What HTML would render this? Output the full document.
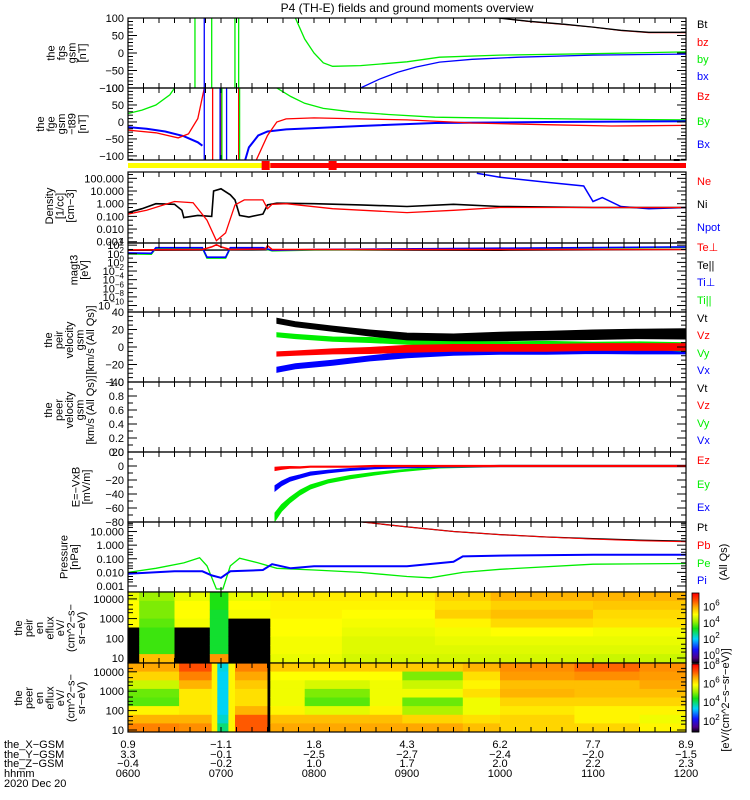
<!DOCTYPE html>
<html><head><meta charset="utf-8">
<style>
html,body{margin:0;padding:0;background:#fff;}
svg{display:block;font-family:"Liberation Sans",sans-serif;}
text{font-size:11px;}
</style></head>
<body>
<svg id="chart" width="750" height="800" viewBox="0 0 750 800" xmlns="http://www.w3.org/2000/svg">
<rect width="750" height="800" fill="#fff"/>
<text x="407" y="12" text-anchor="middle" style="font-size:12px">P4 (TH-E) fields and ground moments overview</text>
<g id="g"></g>
</svg>
<script>
// ---------- DATA ----------
const btT=[9.98,10.3,10.7,11.0,11.3,11.6,12];
const btV=[100,91,82,74,65,59,59];
const bzT=[9.98,10.3,10.7,11.0,11.3,11.6,12];
const bzV=[101,90,81,74,64,58,58];
const byT=[7.8,7.9,8.0,8.1,8.2,8.5,9.0,9.35,10,11,12];
const byV=[100,40,0,-28,-38,-36,-25,-12,-6,-2,3];
const bxT=[8.5,8.7,8.9,9.1,9.35,9.7,10.2,11,12];
const bxV=[-100,-75,-55,-40,-26,-18,-12,-6,-3];
const bySpikes=[6.72,6.9,7.15,7.19];
const bxSpikes=[6.82];
const fBzT=[6.0,6.3,6.54,6.65,6.75,6.82,6.83,7.38,7.5,7.6,7.7,8.0,9.0,9.7,10.5,11.2,12];
const fBzV=[-24,-32,-47,-35,10,100,null,-112,-40,0,9,12,6,-3,-8,-12,-10];
const fByT=[6.0,6.15,6.3,6.45,6.5,6.51,7.6,7.75,7.9,8.1,8.4,8.8,9.3,10,11,12];
const fByV=[25,35,50,80,100,null,100,75,55,40,30,22,14,11,8,6];
const fBxT=[6.0,6.2,6.4,6.6,6.75,6.8,6.81,7.26,7.3,7.4,7.5,7.7,8.0,8.5,9.3,10.5,12];
const fBxV=[-15,-20,-28,-42,-60,-70,null,-112,-75,-40,-28,-22,-18,-12,-3,0,2];
const fBzSpikes=[6.91,7.0,7.19];
const fBySpikes=[7.01,7.2];
const fBxSpikes=[6.82,6.99,7.06];
const niT=[6,6.15,6.3,6.5,6.58,6.6,6.75,6.9,6.92,7.0,7.1,7.15,7.2,7.3,7.45,7.5,7.6,8,8.5,9,9.5,10,11,12];
const niV=[0.2,0.4,1.0,0.9,0.3,0.08,0.12,0.1,10,15,5,2,0.12,0.09,0.15,0.8,1.1,1.0,0.8,0.6,0.9,0.6,0.5,0.5];
const neT=[6,6.2,6.5,6.7,6.85,6.95,7.05,7.15,7.25,7.45,7.5,7.55,7.7,8.2,9,9.5,10,11,12];
const neV=[0.15,0.3,1.5,1.2,0.05,0.0012,0.005,0.8,2,2,0.4,0.9,1,0.4,0.2,0.3,0.5,0.5,0.5];
const npT=[9.75,10,10.5,10.9,11.0,11.1,11.3,11.6,12];
const npV=[250,120,50,25,1.5,3,0.6,0.4,0.5];
const tePerpT=[6,6.8,6.9,6.95,7.0,7.1,7.48,7.5,7.55,12];
const tePerpL=[2.9,3.0,3.6,4.1,3.6,3.0,3.1,3.9,3.0,3.0];
const teParT=[6,7.5,8,10,12];
const teParL=[2.8,2.9,2.9,2.8,3.0];
const tiPerpT=[6,6.25,6.3,6.8,6.85,7.05,7.1,7.45,7.55,8,10,12];
const tiPerpL=[2.2,2.1,3.4,3.4,1.2,1.2,3.4,3.4,2.8,3.0,3.3,3.6];
const tiParL=[2.0,1.9,3.3,3.3,1.0,1.0,3.3,3.3,2.7,2.9,3.2,3.5];
const velT=[7.6,7.8,8.2,8.6,9.0,9.5,10,10.5,11,11.5,12];
const vtV=[30,26,21,16,12,11,12,13,14,15,15];
const vtA=[3,3,3,3.5,4,4,5,5,5.5,5.5,6];
const vyV=[14,12,9,8,6,4,3,3,2,2,0];
const vyA=[2.5,2.5,2.5,3,3,3,3,3.5,3.5,4,5];
const vzV=[-8,-7,-5,-4,-2,-1,-1,-1,0,0,0];
const vzA=[2.5,2.5,3,3.5,4,4,4,4,4,4,4];
const vxV=[-26,-22,-18,-13,-9,-6,-5,-5,-4,-4,-4];
const vxA=[3,3,3,3,3.5,3.5,3.5,3.5,3.5,4,4];
const eT=[7.58,7.65,7.74,7.85,7.96,8.15,8.39,8.65,8.92,9.35,10,11,12];
const eyV=[-73,-60,-49,-38,-30,-22,-16,-11,-7,-2,0,0,0];
const eyA=[6,5,4,3.5,3,2.5,2.5,2,1.5,1,1,1,1];
const exV=[-32,-25,-19,-15,-11,-8,-5,-3,-2,-1,0,0,0];
const exA=[4,3.5,3,2.5,2.5,2,1.5,1,1,1,1,1,1];
const ezV=[-4,-3,-2,-2,-1,-1,-1,0,0,0,0,0,0];
const ezA=[2.5,2,1.5,1.2,1,1,1,1,1,1,1,1,1];
const ptT=[8.52,9,9.5,10,10.5,11,11.5,12];
const ptV=[50,22,10,6,4,3,2.3,2.0];
const pbV=[50,22,10,6,4,2.8,2.1,1.8];
const peT=[6,6.3,6.6,6.77,6.85,6.95,7.02,7.1,7.2,7.4,7.6,8,8.5,9.0,9.25,9.6,10,11,12];
const peV=[0.01,0.02,0.05,0.12,0.03,0.0006,0.0006,0.03,0.11,0.05,0.02,0.015,0.01,0.005,0.004,0.01,0.017,0.04,0.045];
const piT=[6,6.5,6.8,6.9,7.0,7.1,7.45,7.55,7.75,8,8.5,9,9.5,9.6,10,11,12];
const piV=[0.008,0.012,0.012,0.006,0.004,0.012,0.015,0.04,0.02,0.028,0.028,0.028,0.06,0.15,0.17,0.2,0.2];
const iSegT=[6.0,6.12,6.5,6.88,7.08,7.53,8.3,9.3,9.9,11.0];
const iSegV=[
 [4.9,5.1,5.1,5.1,null,null,null,null],
 [4.2,4.0,4.0,3.8,3.6,3.6,3.6,5.8],
 [4.9,5.1,5.1,5.0,null,null,null,null],
 [3.4,3.4,3.2,3.2,3.2,3.2,3.2,6.2],
 [4.9,5.1,5.0,null,null,null,null,null],
 [5.3,5.2,5.2,5.1,5.1,5.0,5.0,4.9],
 [5.3,5.2,5.1,5.0,4.9,4.8,4.8,4.7],
 [5.6,5.4,5.6,5.2,5.0,4.9,4.8,4.7],
 [5.9,5.6,5.8,5.5,5.1,4.9,4.8,4.7],
 [5.9,5.7,5.5,5.4,5.0,4.9,4.8,4.6]];
const eSegT=[6.0,6.55,6.9,6.96,7.08,7.15,7.5,7.53,7.9,8.6,8.95,9.6,10.0,10.8,11.5];
const eSegV=[
 [6.7,6.3,5.5,4.9,4.8,6.0,6.6,7.0],
 [7.4,7.0,6.6,6.1,6.1,6.1,6.6,6.9],
 [6.0,6.0,6.0,6.0,6.0,6.0,6.0,6.0],
 [3.5,3.4,3.4,3.4,3.4,3.4,3.6,4.0],
 [6.0,6.0,6.0,6.0,6.0,6.0,6.0,6.0],
 [7.0,6.7,6.4,6.2,6.2,6.6,7.3,7.3],
 [null,null,null,null,null,null,null,null],
 [6.4,5.9,5.8,5.8,5.8,6.0,6.5,6.7],
 [6.4,5.9,5.6,5.0,4.8,5.7,6.5,6.7],
 [6.4,5.9,5.8,5.8,5.8,6.0,6.5,6.7],
 [6.4,5.0,5.5,5.8,4.9,5.3,6.3,6.7],
 [6.6,6.2,6.0,6.2,5.8,5.8,6.2,6.5],
 [6.9,6.8,6.5,6.6,6.3,6.1,6.3,6.3],
 [7.2,6.9,6.5,6.5,6.3,6.0,6.0,6.3],
 [6.9,6.8,6.7,6.5,6.3,6.0,5.8,6.0]];
const hhmm=["0600","0700","0800","0900","1000","1100","1200"];
const xGsm=["0.9","\u22121.1","1.8","4.3","6.2","7.7","8.9"];
const yGsm=["3.3","\u22120.1","\u22122.5","\u22122.7","\u22122.4","\u22122.0","\u22121.5"];
const zGsm=["\u22120.4","\u22120.2","1.0","1.7","2.0","2.2","2.3"];

// ---------- DRAWING ----------
const NS="http://www.w3.org/2000/svg";
const G=document.getElementById('g');
const X0=128,X1=686;
function tx(t){return X0+(t-6)/6*(X1-X0);}
function mk(tag,attrs,parent){const e=document.createElementNS(NS,tag);for(const k in attrs)e.setAttribute(k,attrs[k]);(parent||G).appendChild(e);return e;}
function lin(y0,y1,mn,mx){return v=>y1-(v-mn)/(mx-mn)*(y1-y0);}
function lg(y0,y1,mn,mx){return v=>y1-(Math.log10(v)-mn)/(mx-mn)*(y1-y0);}
let clipN=0;
function clip(y0,y1){const id='c'+(clipN++);const cp=mk('clipPath',{id:id});mk('rect',{x:X0,y:y0,width:X1-X0,height:y1-y0},cp);return 'url(#'+id+')';}
function pathD(ts,vs,yf){let d='',pen=false;for(let i=0;i<ts.length;i++){if(vs[i]==null){pen=false;continue;}d+=(pen?'L':'M')+tx(ts[i]).toFixed(1)+','+yf(vs[i]).toFixed(1);pen=true;}return d;}
function line(name,ts,vs,yf,col,cl,w){const p=mk('path',{d:pathD(ts,vs,yf),fill:'none',stroke:col,'stroke-width':w||1.3,'clip-path':cl});

return p;}
function band(name,ts,vs,as,yf,col,cl){let d='';for(let i=0;i<ts.length;i++)d+=(i?'L':'M')+tx(ts[i]).toFixed(1)+','+yf(vs[i]+as[i]).toFixed(1);for(let i=ts.length-1;i>=0;i--)d+='L'+tx(ts[i]).toFixed(1)+','+yf(vs[i]-as[i]).toFixed(1);d+='Z';
const p=mk('path',{d:d,fill:col,stroke:col,'stroke-width':0.8,'clip-path':cl});

}
function spikes(name,ts,y0,y1,col,cl){ts.forEach(t=>{const l=mk('line',{x1:tx(t),x2:tx(t),y1:y0,y2:y1,stroke:col,'stroke-width':1.3,'clip-path':cl});

});}
function frame(name,y0,y1){const r=mk('rect',{x:X0,y:y0,width:X1-X0,height:y1-y0,fill:'none',stroke:'#000','stroke-width':1.2});


for(let m=0;m<=36;m++){const x=X0+m*(X1-X0)/36;mk('line',{x1:x,x2:x,y1:y0,y2:y0+5,stroke:'#000'});mk('line',{x1:x,x2:x,y1:y1,y2:y1-5,stroke:'#000'});}}
function yticks(yf,vals,labels,minors,opts){opts=opts||{};vals.forEach((v,i)=>{const y=yf(v);mk('line',{x1:X0,x2:X0+9,y1:y,y2:y,stroke:'#000'});mk('line',{x1:X1,x2:X1-9,y1:y,y2:y,stroke:'#000'});
if(labels){const t=mk('text',{x:124,y:y+4,'text-anchor':'end'});
if(opts.sup){t.textContent='10';const s=mk('tspan',{dy:-5,style:'font-size:8px'},t);s.textContent=labels[i];}else t.textContent=labels[i];}});
(minors||[]).forEach(v=>{const y=yf(v);mk('line',{x1:X0,x2:X0+5,y1:y,y2:y,stroke:'#000'});mk('line',{x1:X1,x2:X1-5,y1:y,y2:y,stroke:'#000'});});}
function ytitle(name,lines,yc,xEnd){const n=lines.length;lines.forEach((s,i)=>{const x=xEnd-(n-1-i)*10.5;const t=mk('text',{x:x,y:yc,'text-anchor':'middle',transform:'rotate(-90 '+x+' '+yc+')'});t.textContent=s;

});}
function legend(items){items.forEach(it=>{const t=mk('text',{x:697,y:it[2],fill:it[1]});t.textContent=it[0];

});}
const RED='#ff0000',GRN='#00ee00',BLU='#0000ff',BLK='#000000';

{const y0=18,y1=88,yf=lin(y0,y1,-100,100),cl=clip(y0,y1);
line('by-line',byT,byV,yf,GRN,cl);line('bx-line',bxT,bxV,yf,BLU,cl);line('bz-line',bzT,bzV,yf,RED,cl,1);line('bt-line',btT,btV,yf,BLK,cl);
spikes('by-spike',bySpikes,y0,y1,GRN,cl);spikes('bx-spike',bxSpikes,y0,y1,BLU,cl);
frame('fgs-panel',y0,y1);yticks(yf,[100,50,0,-50,-100],['100','50','0','\u221250','\u2212100'],[90,80,70,60,40,30,20,10,-10,-20,-30,-40,-60,-70,-80,-90]);
ytitle('fgs-y-title',['the','fgs','gsm','[nT]'],53,86);
legend([['Bt',BLK,28],['bz',RED,46],['by',GRN,63],['bx',BLU,80]]);}
{const y0=88,y1=160,yf=lin(y0,y1,-112,100),cl=clip(y0,y1);
line('fge-by-line',fByT,fByV,yf,GRN,cl);line('fge-bx-line',fBxT,fBxV,yf,BLU,cl,2);line('fge-bz-line',fBzT,fBzV,yf,RED,cl);
spikes('fge-bz-spike',fBzSpikes,y0,y1,RED,cl);spikes('fge-by-spike',fBySpikes,y0,y1,GRN,cl);spikes('fge-bx-spike',fBxSpikes,y0,y1,BLU,cl);
frame('fge-panel',y0,y1);yticks(yf,[100,50,0,-50,-100],['100','50','0','\u221250','\u2212100'],[90,80,70,60,40,30,20,10,-10,-20,-30,-40,-60,-70,-80,-90,-110]);
ytitle('fge-y-title',['the','fge','gsm','\u2212t89','[nT]'],124,86);
legend([['Bz',RED,100],['By',GRN,125],['Bx',BLU,148]]);}
{const b1=mk('rect',{x:X0,y:163,width:tx(7.53)-X0,height:5,fill:'#ffff00'});
const b2=mk('rect',{x:tx(7.53),y:163,width:X1-tx(7.53),height:5,fill:RED});
[7.48,8.2].forEach(t=>mk('rect',{x:tx(t)-4,y:161,width:8,height:9,fill:RED}));
[10.7,11.35,11.9].forEach(t=>mk('rect',{x:tx(t)-3,y:159,width:6,height:2,fill:BLK}));}
{const y0=172,y1=243,yf=lg(y0,y1,-3.1,2.5),cl=clip(y0,y1);
line('npot-line',npT,npV,yf,BLU,cl,1.5);line('ni-line',niT,niV,yf,BLK,cl,1.6);line('ne-line',neT,neV,yf,RED,cl,1.3);
frame('density-panel',y0,y1);
yticks(yf,[100,10,1,0.1,0.01,0.001],['100.000','10.000','1.000','0.100','0.010','0.001'],[200,50,20,5,2,0.5,0.2,0.05,0.02,0.005,0.002]);
ytitle('density-y-title',['Density','[1/cc]','[cm\u22123]'],206,74);
legend([['Ne',RED,185],['Ni',BLK,208],['Npot',BLU,231]]);}
{const y0=243,y1=312,yf=v=>y1-(v+11.5)/16*(y1-y0),cl=clip(y0,y1);
line('te-par-line',teParT,teParL,yf,BLK,cl);line('ti-par-line',tiPerpT,tiParL,yf,GRN,cl,1.6);line('ti-perp-line',tiPerpT,tiPerpL,yf,BLU,cl,1.6);line('te-perp-line',tePerpT,tePerpL,yf,RED,cl,1.5);
frame('temperature-panel',y0,y1);
yticks(yf,[4,2,0,-2,-4,-6,-8,-10],['4','2','0','\u22122','\u22124','\u22126','\u22128','\u221210'],[3,1,-1,-3,-5,-7,-9,-11],{sup:true});
ytitle('temperature-y-title',['magt3','[eV]'],270,88);
legend([['Te\u22a5',RED,251],['Te||',BLK,269],['Ti\u22a5',BLU,286],['Ti||',GRN,304]]);}
{const y0=312,y1=382,yf=lin(y0,y1,-40,40),cl=clip(y0,y1);
band('vx-band',velT,vxV,vxA,yf,BLU,cl);band('vy-band',velT,vyV,vyA,yf,GRN,cl);band('vt-band',velT,vtV,vtA,yf,BLK,cl);band('vz-band',velT,vzV,vzA,yf,RED,cl);
frame('ion-velocity-panel',y0,y1);
yticks(yf,[40,20,0,-20,-40],['40','20','0','\u221220','\u221240'],[35,30,25,15,10,5,-5,-10,-15,-25,-30,-35]);
ytitle('ion-velocity-y-title',['the','peir','velocity','gsm','[km/s (All Qs)]'],340,94);
legend([['Vt',BLK,322],['Vz',RED,339],['Vy',GRN,357],['Vx',BLU,374]]);}
{const y0=382,y1=452,yf=lin(y0,y1,0,1);
frame('electron-velocity-panel',y0,y1);
yticks(yf,[1,0.8,0.6,0.4,0.2,0],['1.0','0.8','0.6','0.4','0.2','0.0'],[0.9,0.7,0.5,0.3,0.1]);
ytitle('electron-velocity-y-title',['the','peer','velocity','gsm','[km/s (All Qs)]'],410,94);
legend([['Vt',BLK,392],['Vz',RED,409],['Vy',GRN,427],['Vx',BLU,444]]);}
{const y0=452,y1=522,yf=lin(y0,y1,-80,20),cl=clip(y0,y1);
band('ey-band',eT,eyV,eyA,yf,GRN,cl);band('ex-band',eT,exV,exA,yf,BLU,cl);band('ez-band',eT,ezV,ezA,yf,RED,cl);
frame('efield-panel',y0,y1);
yticks(yf,[20,0,-20,-40,-60,-80],['20','0','\u221220','\u221240','\u221260','\u221280'],[10,-10,-30,-50,-70]);
ytitle('efield-y-title',['E=\u2212VxB','[mV/m]'],487,90);
legend([['Ez',RED,464],['Ey',GRN,488],['Ex',BLU,511]]);}
{const y0=522,y1=592,yf=lg(y0,y1,-3.44,1.7),cl=clip(y0,y1);
line('pe-line',peT,peV,yf,GRN,cl);line('pi-line',piT,piV,yf,BLU,cl,2);line('pt-line',ptT,ptV,yf,BLK,cl);line('pb-line',ptT,pbV,yf,RED,cl,1);
frame('pressure-panel',y0,y1);
yticks(yf,[10,1,0.1,0.01,0.001],['10.000','1.000','0.100','0.010','0.001'],[50,40,30,20,5,3,2,0.5,0.3,0.2,0.05,0.03,0.02,0.005,0.003,0.002]);
ytitle('pressure-y-title',['Pressure','[nPa]'],557,78);
legend([['Pt',BLK,531],['Pb',RED,549],['Pe',GRN,567],['Pi',BLU,584]]);
const q=mk('text',{x:727,y:562,'text-anchor':'middle',transform:'rotate(-90 727 562)'});q.textContent='(All Qs)';}
const stops=[[0,[0,0,0]],[0.08,[80,0,140]],[0.2,[20,20,255]],[0.35,[0,210,255]],[0.5,[20,225,20]],[0.6,[160,240,0]],[0.7,[255,255,0]],[0.8,[255,176,0]],[0.9,[255,80,0]],[1,[255,0,0]]];
function cmap(f){f=Math.max(0,Math.min(1,f));for(let i=1;i<stops.length;i++){if(f<=stops[i][0]){const a=stops[i-1],b=stops[i],u=(f-a[0])/(b[0]-a[0]);const c=a[1].map((v,k)=>Math.round(v+(b[1][k]-v)*u));return 'rgb('+c.join(',')+')';}}return 'rgb(255,0,0)';}
function spec(name,segT,segV,y0,y1,mn,mx){const nr=segV[0].length,rh=(y1-y0)/nr;
for(let k=0;k<segT.length;k++){const xa=tx(segT[k]),xb=tx(k+1<segT.length?segT[k+1]:12);
for(let r=0;r<nr;r++){const v=segV[k][r];const c=v==null?'#000':cmap((v-mn)/(mx-mn));
const e=mk('rect',{x:xa.toFixed(1),y:(y0+r*rh).toFixed(1),width:(xb-xa+0.4).toFixed(1),height:(rh+0.4).toFixed(1),fill:c});

}}}
function cbar(name,y0,y1,mn,mx,labs){for(let i=0;i<70;i++){const f=1-i/70;mk('rect',{x:692,y:y0+i*(y1-y0)/70,width:7,height:(y1-y0)/70+0.5,fill:cmap(f)});}
const r=mk('rect',{x:692,y:y0,width:7,height:y1-y0,fill:'none',stroke:'#000','stroke-width':0.8});
labs.forEach(p=>{const y=y1-(p-mn)/(mx-mn)*(y1-y0);const t=mk('text',{x:703,y:y+4});t.textContent='10';const s=mk('tspan',{dy:-5,style:'font-size:8px'},t);s.textContent=String(p);});}
{const y0=592,y1=663;spec('ion-spectrogram',iSegT,iSegV,y0,y1,-1,7.7);
frame('ion-spectrogram-panel',y0,y1);const yf=v=>658-(Math.log10(v)-1)*19.7;
yticks(yf,[10000,1000,100,10],['10000','1000','100','10'],[5000,3000,2000,500,300,200,50,30,20,15000]);
ytitle('ion-spec-y-title',['the','peir','en','eflux','eV/','(cm^2\u2212s\u2212','sr\u2212eV)'],628,85);
cbar('ion-colorbar',593,663,-1,7.7,[6,4,2,0]);}
{const y0=663,y1=732;spec('electron-spectrogram',eSegT,eSegV,y0,y1,0.8,8.1);
frame('electron-spectrogram-panel',y0,y1);const yf=v=>730-(Math.log10(v)-1)*19.4;
yticks(yf,[10000,1000,100,10],['10000','1000','100','10'],[5000,3000,2000,500,300,200,50,30,20,15000]);
ytitle('electron-spec-y-title',['the','peer','en','eflux','eV/','(cm^2\u2212s\u2212','sr\u2212eV)'],698,85);
cbar('electron-colorbar',664,732,0.8,8.1,[8,6,4,2]);
const t=mk('text',{x:729,y:700,'text-anchor':'middle',transform:'rotate(-90 729 700)'});t.textContent='[eV/(cm^2\u2212s\u2212sr\u2212eV)]';}
{const rows=[['the_X\u2212GSM',xGsm,748],['the_Y\u2212GSM',yGsm,758],['the_Z\u2212GSM',zGsm,767],['hhmm',hhmm,777]];
rows.forEach(r=>{const t=mk('text',{x:4,y:r[2]});t.textContent=r[0];
r[1].forEach((s,i)=>{const x=X0+i*(X1-X0)/6;const e=mk('text',{x:x,y:r[2],'text-anchor':'middle'});e.textContent=s;

});});
const d=mk('text',{x:4,y:787});d.textContent='2020 Dec 20';}
</script>
</body></html>
